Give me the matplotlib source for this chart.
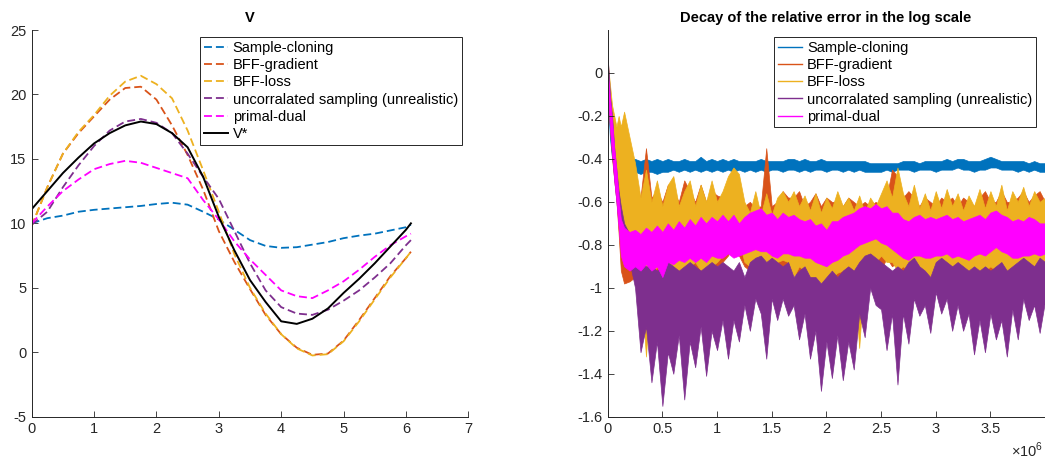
import numpy as np
import matplotlib
matplotlib.use('Agg')
import matplotlib.pyplot as plt
from matplotlib.lines import Line2D
from matplotlib.ticker import FuncFormatter

plt.rcParams['font.family'] = ['Liberation Sans', 'DejaVu Sans']
plt.rcParams['mathtext.fontset'] = 'custom'
plt.rcParams['mathtext.rm'] = 'Liberation Sans'
plt.rcParams['axes.unicode_minus'] = False

# MATLAB default colours
C_BLUE = '#0072BD'
C_ORANGE = '#D95319'
C_YELLOW = '#EDB120'
C_PURPLE = '#7E2F8E'
C_MAGENTA = '#FF00FF'

labels = ['Sample-cloning', 'BFF-gradient', 'BFF-loss',
          'uncorralated sampling (unrealistic)', 'primal-dual']

# ---- left panel: value functions
x_state = [0, 0.25, 0.5, 0.75, 1.0, 1.25, 1.5, 1.75, 2.0, 2.25, 2.5, 2.75, 3.0,
           3.25, 3.5, 3.75, 4.0, 4.25, 4.5, 4.75, 5.0, 5.25, 5.5, 5.75, 6.0, 6.08]
v_cloning = [10.0, 10.4, 10.6, 10.9, 11.05, 11.15, 11.25, 11.35, 11.5, 11.6, 11.45, 10.9, 10.3,
             9.5, 8.7, 8.25, 8.1, 8.15, 8.35, 8.55, 8.85, 9.05, 9.2, 9.45, 9.7, 9.9]
v_bff_grad = [9.8, 12.8, 15.4, 17.0, 18.3, 19.6, 20.5, 20.6, 19.6, 17.6, 15.3, 12.6, 9.4,
              7.0, 4.9, 2.9, 1.4, 0.35, -0.2, -0.1, 0.9, 2.5, 4.2, 5.9, 7.3, 7.8]
v_bff_loss = [9.8, 12.8, 15.4, 17.1, 18.4, 19.9, 21.0, 21.45, 20.8, 19.7, 17.2, 14.1, 10.9,
              7.6, 5.0, 3.0, 1.4, 0.3, -0.25, -0.15, 0.85, 2.4, 4.1, 5.8, 7.3, 7.8]
v_uncorr = [9.9, 10.9, 12.8, 14.5, 16.0, 17.2, 17.9, 18.1, 17.8, 17.0, 15.4, 13.6, 11.9,
            9.4, 6.9, 4.8, 3.5, 3.0, 2.9, 3.3, 4.0, 4.8, 5.8, 6.9, 8.3, 8.7]
v_primal_dual = [10.0, 11.3, 12.5, 13.4, 14.2, 14.6, 14.85, 14.7, 14.3, 13.9, 13.5, 11.8, 10.3,
                 8.6, 7.2, 6.0, 4.8, 4.35, 4.2, 4.8, 5.5, 6.4, 7.4, 8.3, 9.0, 9.2]
v_star = [11.1, 12.5, 13.9, 15.1, 16.2, 17.0, 17.6, 17.9, 17.7, 17.0, 15.9, 13.6, 10.5,
          7.9, 5.6, 3.9, 2.4, 2.2, 2.6, 3.4, 4.6, 5.7, 6.9, 8.2, 9.5, 10.0]

# ---- right panel: log relative error, upper / lower edge of each noisy band
iters_early = [0, 0.01, 0.02, 0.04, 0.06, 0.08, 0.1, 0.12, 0.15, 0.2]
iters_grid = np.round(np.arange(0.25, 4.0001, 0.05), 2)
iters = np.concatenate([iters_early, iters_grid]) * 1e6

cloning_hi = [0.0, -0.12, -0.22, -0.33, -0.38, -0.40, -0.39, -0.40, -0.39, -0.40,
              -0.40, -0.41, -0.40, -0.41, -0.40, -0.41, -0.40, -0.41, -0.41, -0.40,
              -0.41, -0.41, -0.39, -0.41, -0.40, -0.41, -0.40, -0.41, -0.40, -0.41,
              -0.41, -0.41, -0.41, -0.40, -0.41, -0.41, -0.41, -0.41, -0.40, -0.40,
              -0.41, -0.40, -0.41, -0.41, -0.40, -0.41, -0.41, -0.41, -0.41, -0.41,
              -0.41, -0.41, -0.41, -0.42, -0.42, -0.42, -0.42, -0.42, -0.42, -0.41,
              -0.41, -0.41, -0.42, -0.41, -0.41, -0.41, -0.41, -0.40, -0.41, -0.40,
              -0.40, -0.41, -0.41, -0.41, -0.40, -0.39, -0.40, -0.41, -0.41, -0.41,
              -0.41, -0.41, -0.42, -0.41, -0.42, -0.42]
cloning_lo = [-0.05, -0.20, -0.30, -0.40, -0.44, -0.45, -0.46, -0.46, -0.46, -0.47,
              -0.46, -0.47, -0.46, -0.46, -0.47, -0.46, -0.46, -0.45, -0.46, -0.45,
              -0.46, -0.45, -0.46, -0.45, -0.46, -0.45, -0.46, -0.45, -0.46, -0.45,
              -0.46, -0.45, -0.46, -0.45, -0.46, -0.45, -0.45, -0.46, -0.45, -0.45,
              -0.46, -0.45, -0.46, -0.45, -0.45, -0.46, -0.45, -0.45, -0.46, -0.45,
              -0.46, -0.45, -0.46, -0.46, -0.46, -0.46, -0.45, -0.46, -0.45, -0.45,
              -0.45, -0.46, -0.45, -0.45, -0.45, -0.46, -0.45, -0.45, -0.45, -0.44,
              -0.45, -0.45, -0.46, -0.45, -0.45, -0.44, -0.44, -0.45, -0.45, -0.45,
              -0.46, -0.45, -0.46, -0.45, -0.46, -0.46]

grad_hi = [0.05, -0.05, -0.10, -0.20, -0.30, -0.35, -0.45, -0.50, -0.55, -0.50,
           -0.50, -0.58, -0.35, -0.58, -0.55, -0.60, -0.52, -0.55, -0.60, -0.50,
           -0.55, -0.60, -0.52, -0.60, -0.55, -0.57, -0.58, -0.55, -0.50, -0.52,
           -0.62, -0.60, -0.63, -0.62, -0.35, -0.62, -0.60, -0.55, -0.58, -0.58,
           -0.55, -0.62, -0.60, -0.56, -0.62, -0.58, -0.60, -0.60, -0.62, -0.58,
           -0.60, -0.62, -0.60, -0.62, -0.60, -0.62, -0.58, -0.45, -0.48, -0.58,
           -0.55, -0.58, -0.62, -0.58, -0.60, -0.62, -0.58, -0.60, -0.58, -0.62,
           -0.58, -0.60, -0.62, -0.58, -0.55, -0.60, -0.60, -0.55, -0.60, -0.60,
           -0.58, -0.55, -0.60, -0.57, -0.55, -0.60]
grad_lo = [-0.05, -0.15, -0.25, -0.40, -0.50, -0.60, -0.75, -0.92, -0.98, -0.97,
           -0.95, -0.92, -0.98, -0.93, -0.95, -0.92, -0.95, -0.92, -0.90, -0.95,
           -0.92, -0.90, -0.93, -0.90, -0.92, -0.90, -0.88, -0.85, -0.80, -0.85,
           -0.90, -0.92, -0.95, -0.93, -0.98, -0.90, -0.90, -0.92, -0.90, -0.93,
           -0.95, -0.93, -0.98, -0.96, -0.95, -1.00, -0.97, -0.95, -0.93, -0.95,
           -0.93, -0.92, -0.95, -0.88, -0.90, -0.92, -0.86, -0.90, -0.88, -0.95,
           -0.93, -0.95, -0.93, -0.98, -0.95, -0.97, -0.92, -0.95, -0.93, -0.95,
           -0.92, -0.95, -0.94, -0.92, -0.95, -0.93, -0.90, -0.95, -0.93, -0.95,
           -0.92, -0.95, -0.92, -0.93, -0.92, -0.95]

loss_hi = [0.06, 0.0, -0.05, -0.15, -0.20, -0.25, -0.20, -0.25, -0.18, -0.30,
           -0.42, -0.58, -0.45, -0.60, -0.50, -0.62, -0.52, -0.48, -0.62, -0.55,
           -0.50, -0.62, -0.52, -0.60, -0.50, -0.60, -0.55, -0.48, -0.44, -0.47,
           -0.60, -0.65, -0.55, -0.66, -0.56, -0.66, -0.58, -0.55, -0.60, -0.55,
           -0.62, -0.57, -0.64, -0.56, -0.65, -0.58, -0.63, -0.55, -0.62, -0.58,
           -0.64, -0.57, -0.65, -0.58, -0.62, -0.56, -0.50, -0.58, -0.44, -0.56,
           -0.62, -0.52, -0.63, -0.56, -0.64, -0.55, -0.63, -0.54, -0.62, -0.56,
           -0.64, -0.57, -0.62, -0.54, -0.63, -0.55, -0.62, -0.52, -0.64, -0.55,
           -0.60, -0.53, -0.62, -0.55, -0.60, -0.58]
loss_lo = [-0.05, -0.15, -0.25, -0.35, -0.45, -0.55, -0.65, -0.75, -0.85, -0.90,
           -0.92, -0.95, -1.32, -0.95, -0.90, -0.97, -0.92, -0.90, -0.93, -0.92,
           -0.90, -0.88, -0.92, -0.92, -0.90, -0.88, -0.85, -0.80, -0.75, -0.78,
           -0.88, -0.90, -0.92, -0.95, -0.90, -0.92, -0.88, -0.87, -0.88, -0.95,
           -0.90, -0.92, -0.95, -0.95, -0.98, -0.96, -0.95, -0.93, -0.92, -0.90,
           -0.92, -1.28, -0.90, -0.85, -0.88, -0.85, -0.88, -0.88, -0.92, -0.90,
           -0.92, -0.93, -0.95, -0.95, -0.98, -0.95, -0.93, -0.92, -0.90, -0.92,
           -0.95, -0.93, -0.92, -0.95, -0.92, -0.90, -0.92, -0.92, -0.95, -0.92,
           -0.90, -0.93, -0.93, -0.95, -0.92, -0.90]

uncorr_hi = [0.07, 0.0, -0.10, -0.20, -0.35, -0.45, -0.55, -0.62, -0.70, -0.75,
             -0.80, -0.88, -0.90, -0.90, -0.92, -0.90, -0.88, -0.90, -0.92, -0.90,
             -0.88, -0.90, -0.92, -0.90, -0.88, -0.90, -0.88, -0.90, -0.92, -0.88,
             -0.95, -0.88, -0.86, -0.85, -0.88, -0.86, -0.88, -0.90, -0.88, -0.95,
             -0.92, -0.90, -0.95, -0.95, -0.98, -0.95, -0.92, -0.95, -0.92, -0.90,
             -0.92, -0.88, -0.85, -0.84, -0.86, -0.88, -0.90, -0.92, -0.90, -0.92,
             -0.88, -0.86, -0.90, -0.92, -0.95, -0.88, -0.86, -0.88, -0.90, -0.88,
             -0.90, -0.92, -0.90, -0.92, -0.90, -0.92, -0.90, -0.88, -0.92, -0.90,
             -0.88, -0.86, -0.88, -0.90, -0.86, -0.88]
uncorr_lo = [-0.05, -0.15, -0.25, -0.38, -0.50, -0.60, -0.70, -0.75, -0.82, -0.88,
             -1.00, -1.30, -1.18, -1.44, -1.25, -1.55, -1.30, -1.40, -1.22, -1.52,
             -1.25, -1.37, -1.18, -1.41, -1.20, -1.29, -1.15, -1.33, -1.15, -1.25,
             -1.08, -1.20, -1.05, -1.12, -1.33, -1.05, -1.15, -1.05, -1.13, -1.08,
             -1.24, -1.12, -1.33, -1.20, -1.48, -1.25, -1.42, -1.22, -1.43, -1.25,
             -1.38, -1.12, -1.23, -1.00, -1.08, -1.10, -1.29, -1.12, -1.45, -1.12,
             -1.26, -1.05, -1.13, -1.08, -1.21, -1.02, -1.12, -1.05, -1.20, -1.08,
             -1.20, -1.12, -1.31, -1.15, -1.30, -1.12, -1.24, -1.15, -1.32, -1.10,
             -1.24, -1.05, -1.15, -1.08, -1.21, -1.06]

pd_hi = [0.0, -0.05, -0.12, -0.22, -0.35, -0.45, -0.58, -0.68, -0.72, -0.74,
         -0.73, -0.75, -0.72, -0.74, -0.71, -0.74, -0.70, -0.73, -0.69, -0.72,
         -0.68, -0.71, -0.67, -0.70, -0.67, -0.69, -0.66, -0.69, -0.66, -0.70,
         -0.67, -0.65, -0.64, -0.63, -0.66, -0.65, -0.68, -0.65, -0.67, -0.66,
         -0.68, -0.69, -0.68, -0.71, -0.70, -0.73, -0.69, -0.69, -0.67, -0.66,
         -0.65, -0.63, -0.62, -0.63, -0.61, -0.63, -0.62, -0.65, -0.65, -0.68,
         -0.69, -0.67, -0.66, -0.68, -0.67, -0.68, -0.67, -0.66, -0.68, -0.67,
         -0.69, -0.68, -0.67, -0.66, -0.68, -0.65, -0.64, -0.66, -0.67, -0.69,
         -0.68, -0.69, -0.67, -0.68, -0.70, -0.70]
pd_lo = [-0.08, -0.15, -0.25, -0.38, -0.50, -0.60, -0.72, -0.85, -0.90, -0.92,
         -0.90, -0.92, -0.89, -0.92, -0.90, -0.95, -0.88, -0.89, -0.87, -0.88,
         -0.86, -0.88, -0.86, -0.88, -0.85, -0.86, -0.86, -0.84, -0.86, -0.85,
         -0.84, -0.83, -0.82, -0.83, -0.83, -0.85, -0.86, -0.84, -0.84, -0.85,
         -0.85, -0.86, -0.86, -0.88, -0.89, -0.90, -0.88, -0.87, -0.85, -0.84,
         -0.82, -0.80, -0.79, -0.78, -0.77, -0.79, -0.80, -0.82, -0.84, -0.86,
         -0.87, -0.85, -0.85, -0.86, -0.86, -0.85, -0.85, -0.84, -0.86, -0.85,
         -0.86, -0.87, -0.85, -0.84, -0.85, -0.83, -0.81, -0.83, -0.84, -0.86,
         -0.86, -0.85, -0.85, -0.84, -0.85, -0.84]

W, H = 1045, 465
FS = 10.5
fig = plt.figure(figsize=(W / 100, H / 100), dpi=100)
ax1 = fig.add_axes([31.7 / W, 1 - 416.7 / H, (468.3 - 31.7) / W, (416.7 - 30) / H])
ax2 = fig.add_axes([607.7 / W, 1 - 416.7 / H, (1044 - 607.7) / W, (416.7 - 30) / H])

dash = (0, (4.4, 2.2))
lw = 1.3
ax1.plot(x_state, v_cloning, color=C_BLUE, lw=lw, ls=dash, label=labels[0])
ax1.plot(x_state, v_bff_grad, color=C_ORANGE, lw=lw, ls=dash, label=labels[1])
ax1.plot(x_state, v_bff_loss, color=C_YELLOW, lw=lw, ls=dash, label=labels[2])
ax1.plot(x_state, v_uncorr, color=C_PURPLE, lw=lw, ls=dash, label=labels[3])
ax1.plot(x_state, v_primal_dual, color=C_MAGENTA, lw=lw, ls=dash, label=labels[4])
ax1.plot(x_state, v_star, color='black', lw=1.4, label='V*')
ax1.set_xlim(0, 7)
ax1.set_ylim(-5, 25)
ax1.set_xticks(range(0, 8))
ax1.set_yticks(range(-5, 26, 5))
ax1.set_title('V', fontsize=FS, fontweight='bold', pad=6)

bands = [(cloning_lo, cloning_hi, C_BLUE), (grad_lo, grad_hi, C_ORANGE),
         (loss_lo, loss_hi, C_YELLOW), (uncorr_lo, uncorr_hi, C_PURPLE),
         (pd_lo, pd_hi, C_MAGENTA)]
for lo, hi, c in bands:
    ax2.fill_between(iters, lo, hi, color=c, lw=0.5)
ax2.set_xlim(0, 3.99e6)
ax2.set_ylim(-1.6, 0.2)
ax2.set_xticks(np.arange(0, 3.6e6, 0.5e6))
ax2.set_yticks(np.arange(-1.6, 0.01, 0.2))
ax2.xaxis.set_major_formatter(FuncFormatter(lambda v, p: '%g' % (round(v / 1e6, 2) + 0.0)))
ax2.yaxis.set_major_formatter(FuncFormatter(lambda v, p: '%g' % (round(v, 2) + 0.0)))
ax2.text(0.998, -0.062, r'$\times10^{6}$', transform=ax2.transAxes, ha='right', va='top',
         fontsize=FS, color='#262626')
ax2.set_title('Decay of the relative error in the log scale', fontsize=FS,
              fontweight='bold', pad=6)

for ax in (ax1, ax2):
    for s in ('top', 'right'):
        ax.spines[s].set_visible(False)
    for s in ('left', 'bottom'):
        ax.spines[s].set_color('#262626')
        ax.spines[s].set_linewidth(0.7)
    ax.tick_params(direction='in', length=4, width=0.6, color='#262626',
                   labelcolor='#262626', labelsize=FS, pad=4)

leg_kw = dict(loc='upper right', bbox_transform=fig.transFigure, fontsize=FS,
              fancybox=False, edgecolor='#262626', framealpha=1, borderpad=0.25,
              labelspacing=0.22, handlelength=1.65, handletextpad=0.35, borderaxespad=0)
leg1 = ax1.legend(bbox_to_anchor=(461.7 / W, 1 - 37.3 / H), **leg_kw)
leg1.get_frame().set_linewidth(0.7)

handles = [Line2D([], [], color=c, lw=1.0) for c in
           (C_BLUE, C_ORANGE, C_YELLOW, C_PURPLE, C_MAGENTA)]
leg2 = ax2.legend(handles, labels, bbox_to_anchor=(1036 / W, 1 - 37.3 / H), **leg_kw)
leg2.get_frame().set_linewidth(0.7)

fig.savefig('out.png', dpi=100)
